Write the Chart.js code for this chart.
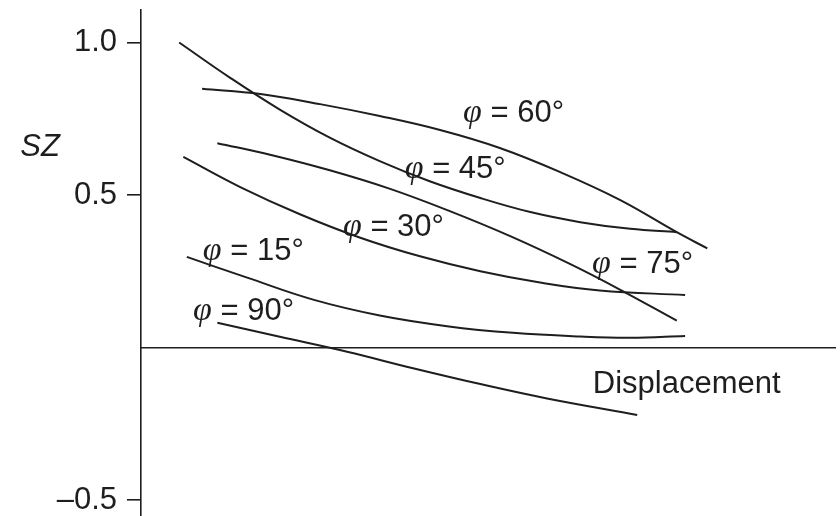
<!DOCTYPE html>
<html>
<head>
<meta charset="utf-8">
<script src="https://cdn.jsdelivr.net/npm/chart.js@4"></script>
<style>
  html, body { margin: 0; padding: 0; background: #fff; }
  #wrap { width: 840px; height: 516px; }
</style>
</head>
<body>
<div id="wrap"><canvas id="c" width="840" height="516"></canvas></div>
<script>
// SZ against displacement for several angles φ (displacement in relative units 0–100)
const phi45X = [5.5, 12.8, 20.0, 27.2, 34.4, 41.6, 48.9, 56.1, 63.3, 70.5, 77.2];
const phi45Y = [1.0, 0.885, 0.78, 0.688, 0.611, 0.545, 0.49, 0.444, 0.411, 0.389, 0.378];

const phi60X = [8.8, 17.2, 25.8, 34.4, 43.1, 51.7, 60.4, 69.0, 77.2, 81.6];
const phi60Y = [0.848, 0.831, 0.798, 0.759, 0.713, 0.654, 0.575, 0.484, 0.378, 0.325];

const phi75X = [11.0, 18.6, 27.2, 35.9, 44.5, 53.2, 61.8, 69.0, 77.2];
const phi75Y = [0.67, 0.632, 0.581, 0.52, 0.447, 0.365, 0.274, 0.19, 0.088];

const phi30X = [6.1, 14.3, 22.9, 31.6, 40.2, 48.9, 57.5, 66.1, 78.4];
const phi30Y = [0.625, 0.526, 0.437, 0.36, 0.299, 0.25, 0.213, 0.187, 0.172];

const phi15X = [6.6, 15.3, 24.8, 34.4, 44.1, 53.6, 63.3, 70.5, 78.4];
const phi15Y = [0.297, 0.229, 0.157, 0.105, 0.07, 0.048, 0.036, 0.032, 0.038];

const phi90X = [11.0, 20.0, 29.7, 39.2, 48.9, 58.5, 71.5];
const phi90Y = [0.081, 0.035, -0.014, -0.068, -0.12, -0.167, -0.221];

const yTickValues = [1.0, 0.5, -0.5];
const yTickText = ['1.0', '0.5', '\u20130.5'];

const curveAngles = ['60', '45', '30', '15', '90', '75'];

// where each "φ = …°" label sits (data units: left edge, baseline)
const labelAnchorX = [46.4, 38.0, 29.1, 8.9, 7.5, 65.0];
const labelAnchorY = [0.739, 0.557, 0.364, 0.287, 0.089, 0.244];

const INK = '#1e1e1e';
const SANS = '"Liberation Sans", Arial, sans-serif';
const SERIF = '"Liberation Serif", "Times New Roman", serif';
const FONT_SIZE = 31;

function zip(xs, ys) { return xs.map((x, i) => ({ x: x, y: ys[i] })); }

function curve(xs, ys) {
  return {
    data: zip(xs, ys),
    borderColor: INK,
    borderWidth: 2,
    pointRadius: 0,
    fill: false,
    tension: 0.4,
    clip: false
  };
}

const annotationText = {
  id: 'annotationText',
  afterDraw(chart) {
    const ctx = chart.ctx;
    const xs = chart.scales.x, ys = chart.scales.y;
    ctx.save();
    ctx.fillStyle = INK;
    ctx.textBaseline = 'alphabetic';
    ctx.textAlign = 'left';

    curveAngles.forEach((a, i) => {
      const px = xs.getPixelForValue(labelAnchorX[i]);
      const py = ys.getPixelForValue(labelAnchorY[i]);
      ctx.font = 'italic ' + (FONT_SIZE + 3) + 'px ' + SERIF;
      ctx.fillText('\u03C6', px, py);
      const w = ctx.measureText('\u03C6').width;
      ctx.font = FONT_SIZE + 'px ' + SANS;
      ctx.fillText(' = ' + a + '\u00B0', px + w, py);
    });

    // axis names
    ctx.font = FONT_SIZE + 'px ' + SANS;
    ctx.fillText('Displacement', xs.getPixelForValue(65.1), ys.getPixelForValue(-0.149));
    ctx.font = 'italic ' + FONT_SIZE + 'px ' + SANS;
    ctx.fillText('SZ', xs.getPixelForValue(-17.4), ys.getPixelForValue(0.628));
    ctx.restore();
  }
};

new Chart(document.getElementById('c'), {
  type: 'line',
  data: {
    datasets: [
      curve(phi45X, phi45Y),
      curve(phi60X, phi60Y),
      curve(phi75X, phi75Y),
      curve(phi30X, phi30Y),
      curve(phi15X, phi15Y),
      curve(phi90X, phi90Y)
    ]
  },
  options: {
    responsive: false,
    animation: false,
    devicePixelRatio: 1,
    layout: { padding: { top: 10, right: 5, bottom: 0, left: 0 } },
    plugins: { legend: { display: false }, tooltip: { enabled: false } },
    scales: {
      x: {
        type: 'linear',
        min: 0,
        max: 100,
        position: { y: 0 },
        ticks: { display: false },
        grid: { display: false, drawTicks: false },
        border: { display: true, color: INK, width: 1.6 }
      },
      y: {
        type: 'linear',
        min: -0.5525,
        max: 1.1066,
        afterBuildTicks(scale) {
          scale.ticks = yTickValues.map(v => ({ value: v }));
        },
        afterFit(scale) {
          scale.width = 141;
          scale.paddingTop = 0;
          scale.paddingBottom = 0;
        },
        grid: { drawOnChartArea: false, drawTicks: true, tickLength: 14, color: INK, lineWidth: 1.6 },
        border: { display: true, color: INK, width: 1.6 },
        ticks: {
          padding: 10,
          color: INK,
          font: { family: SANS, size: FONT_SIZE },
          callback: (v, i) => yTickText[i]
        }
      }
    }
  },
  plugins: [annotationText]
});
</script>
</body>
</html>
